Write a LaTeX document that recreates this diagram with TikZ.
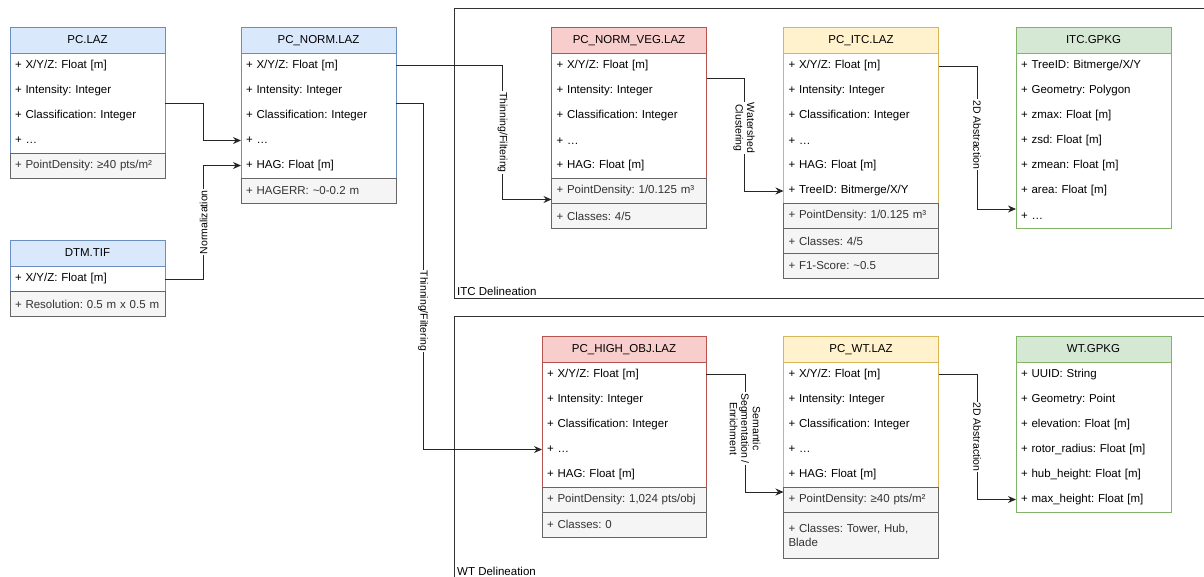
\documentclass[tikz,border=0pt]{standalone}
\usepackage{fontspec}
\setmainfont{Liberation Sans}
\usetikzlibrary{arrows.meta,positioning}
\frenchspacing

\definecolor{inFill}{HTML}{DAE8FC}
\definecolor{inLine}{HTML}{6C8EBF}
\definecolor{filtFill}{HTML}{F8CECC}
\definecolor{filtLine}{HTML}{B85450}
\definecolor{segFill}{HTML}{FFF2CC}
\definecolor{segLine}{HTML}{D6B656}
\definecolor{outFill}{HTML}{D5E8D4}
\definecolor{outLine}{HTML}{82B366}
\definecolor{metaFill}{HTML}{F5F5F5}
\definecolor{metaLine}{HTML}{666666}
\definecolor{metaText}{HTML}{333333}

\tikzset{
  hdr/.style={draw, line width=1pt, anchor=north west, minimum width=155pt, minimum height=26pt,
    inner sep=0pt, outer sep=0pt, text height=8.5pt, text depth=2.5pt, font=\fontsize{11.5}{13}\selectfont},
  row/.style={anchor=north west, text width=145pt, inner xsep=5pt, inner ysep=0pt, minimum height=25pt,
    outer sep=0pt, align=left, font=\fontsize{11.5}{14}\selectfont},
  meta/.style={row, draw=metaLine, fill=metaFill, text=metaText, line width=1pt},
  body/.style={line width=1pt},
  inbox/.style={fill=inFill, draw=inLine},
  filtbox/.style={fill=filtFill, draw=filtLine},
  segbox/.style={fill=segFill, draw=segLine},
  outbox/.style={fill=outFill, draw=outLine},
  flow/.style={draw=black!85, line width=1pt, -{Stealth[length=8pt,width=7pt]}},
  lbl/.style={fill=white, inner sep=1pt, align=center, font=\fontsize{10.5}{11.5}\selectfont},
  group/.style={draw=black!80, line width=1pt},
}

\begin{document}
\begin{tikzpicture}[x=1pt, y=-1pt]
    \useasboundingbox (0,0) rectangle (1204,576);

    % processing stages
    \draw[group] (454,8) rectangle (1215,298);
    \node[anchor=south west, inner sep=1pt, font=\fontsize{11.5}{13}\selectfont] (itcgrp) at (456,297) {ITC Delineation};
    \draw[group] (454,316) rectangle (1215,590);
    \node[anchor=south west, inner sep=1pt, font=\fontsize{11.5}{13}\selectfont] (wtgrp) at (456,577) {WT Delineation};

    % raw point cloud
    \node[hdr, inbox] (pc) at (10,27) {PC.LAZ};
    \foreach \t [count=\i] in {X/Y/Z: Float [m], Intensity: Integer, Classification: Integer, \ldots}
        \node[row] (pc\i) at (10,{53+25*(\i-1)}) {+ \t};
    \draw[body, inLine] (pc1.north west) rectangle (pc4.south east);
    \node[meta, below=0pt of pc4] (pc5) {+ PointDensity: ≥40 pts/m²};

    % terrain model
    \node[hdr, inbox] (dtm) at (10,240.5) {DTM.TIF};
    \node[row] (dtm1) at (10,266.5) {+ X/Y/Z: Float [m]};
    \draw[body, inLine] (dtm1.north west) rectangle (dtm1.south east);
    \node[meta, below=0pt of dtm1] (dtm2) {+ Resolution: 0.5 m x 0.5 m};

    % normalised cloud
    \node[hdr, inbox] (norm) at (241,27) {PC\_NORM.LAZ};
    \foreach \t [count=\i] in {X/Y/Z: Float [m], Intensity: Integer, Classification: Integer, \ldots, HAG: Float [m]}
        \node[row] (norm\i) at (241,{53+25*(\i-1)}) {+ \t};
    \draw[body, inLine] (norm1.north west) rectangle (norm5.south east);
    \node[meta, below=0pt of norm5] (norm6) {+ HAGERR: \textasciitilde0-0.2 m};

    % vegetation points
    \node[hdr, filtbox] (veg) at (551.5,27.5) {PC\_NORM\_VEG.LAZ};
    \foreach \t [count=\i] in {X/Y/Z: Float [m], Intensity: Integer, Classification: Integer, \ldots, HAG: Float [m]}
        \node[row] (veg\i) at (551.5,{53.5+25*(\i-1)}) {+ \t};
    \draw[body, filtLine] (veg1.north west) rectangle (veg5.south east);
    \node[meta, below=0pt of veg5] (veg6) {+ PointDensity: 1/0.125 m³};
    \node[meta, below=0pt of veg6] (veg7) {+ Classes: 4/5};

    % segmented trees
    \node[hdr, segbox] (itc) at (783.5,27.5) {PC\_ITC.LAZ};
    \foreach \t [count=\i] in {X/Y/Z: Float [m], Intensity: Integer, Classification: Integer, \ldots, HAG: Float [m], TreeID: Bitmerge/X/Y}
        \node[row] (itc\i) at (783.5,{53.5+25*(\i-1)}) {+ \t};
    \draw[body, segLine] (itc1.north west) rectangle (itc6.south east);
    \node[meta, below=0pt of itc6] (itc7) {+ PointDensity: 1/0.125 m³};
    \node[meta, below=0pt of itc7] (itc8) {+ Classes: 4/5};
    \node[meta, below=0pt of itc8] (itc9) {+ F1-Score: \textasciitilde0.5};

    % crown polygons
    \node[hdr, outbox] (itcpkg) at (1016,27.5) {ITC.GPKG};
    \foreach \t [count=\i] in {TreeID: Bitmerge/X/Y, Geometry: Polygon, zmax: Float [m], zsd: Float [m], zmean: Float [m], area: Float [m], \ldots}
        \node[row] (itcpkg\i) at (1016,{53.5+25*(\i-1)}) {+ \t};
    \draw[body, outLine] (itcpkg1.north west) rectangle (itcpkg7.south east);

    % high objects
    \node[hdr, filtbox, minimum width=164pt] (obj) at (542,336) {PC\_HIGH\_OBJ.LAZ};
    \foreach \t [count=\i] in {X/Y/Z: Float [m], Intensity: Integer, Classification: Integer, \ldots, HAG: Float [m]}
        \node[row, text width=154pt] (obj\i) at (542,{362+25*(\i-1)}) {+ \t};
    \draw[body, filtLine] (obj1.north west) rectangle (obj5.south east);
    \node[meta, text width=154pt, below=0pt of obj5] (obj6) {+ PointDensity: 1,024 pts/obj};
    \node[meta, text width=154pt, below=0pt of obj6] (obj7) {+ Classes: 0};

    % turbine points
    \node[hdr, segbox] (wt) at (783.5,336) {PC\_WT.LAZ};
    \foreach \t [count=\i] in {X/Y/Z: Float [m], Intensity: Integer, Classification: Integer, \ldots, HAG: Float [m]}
        \node[row] (wt\i) at (783.5,{362+25*(\i-1)}) {+ \t};
    \draw[body, segLine] (wt1.north west) rectangle (wt5.south east);
    \node[meta, below=0pt of wt5] (wt6) {+ PointDensity: ≥40 pts/m²};
    \node[meta, minimum height=46pt, below=0pt of wt6] (wt7) {+ Classes: Tower, Hub,\\Blade};

    % turbine points as features
    \node[hdr, outbox] (wtpkg) at (1016,336) {WT.GPKG};
    \foreach \t [count=\i] in {UUID: String, Geometry: Point, elevation: Float [m], rotor\_radius: Float [m], hub\_height: Float [m], max\_height: Float [m]}
        \node[row] (wtpkg\i) at (1016,{362+25*(\i-1)}) {+ \t};
    \draw[body, outLine] (wtpkg1.north west) rectangle (wtpkg6.south east);

    % connectors
    \draw[flow] (pc2.south east) -- ++(38.7,0) |- (norm4.west);
    \draw[flow] (dtm1.east) -- ++(38.7,0) |- node[lbl, pos=0.25, rotate=90] {Normalization} (norm5.west);
    \draw[flow] (norm1.east) -- ++(106.5,0) |- node[lbl, pos=0.25, rotate=-90] {Thinning/Filtering} ([yshift=4pt]veg6.south west);
    \draw[flow] (norm2.south east) -- ++(27,0) |- node[lbl, pos=0.3, rotate=-90] {Thinning/Filtering} (obj4.west);
    \draw[flow] (veg1.south east) -- ++(37.5,0) |- node[lbl, pos=0.22, rotate=-90] {Watershed\\Clustering} (itc6.west);
    \draw[flow] (itc1.east) -- ++(38.5,0) |- node[lbl, pos=0.24, rotate=-90] {2D Abstraction} ([yshift=7pt]itcpkg7.west);
    \draw[flow] (obj1.east) -- ++(39,0) |- node[lbl, pos=0.23, rotate=-90] {Semantic\\Segmentation /\\Enrichment} ([yshift=-5pt]wt6.north west);
    \draw[flow] (wt1.east) -- ++(38.5,0) |- node[lbl, pos=0.25, rotate=-90] {2D Abstraction} (wtpkg6.west);
\end{tikzpicture}
\end{document}
